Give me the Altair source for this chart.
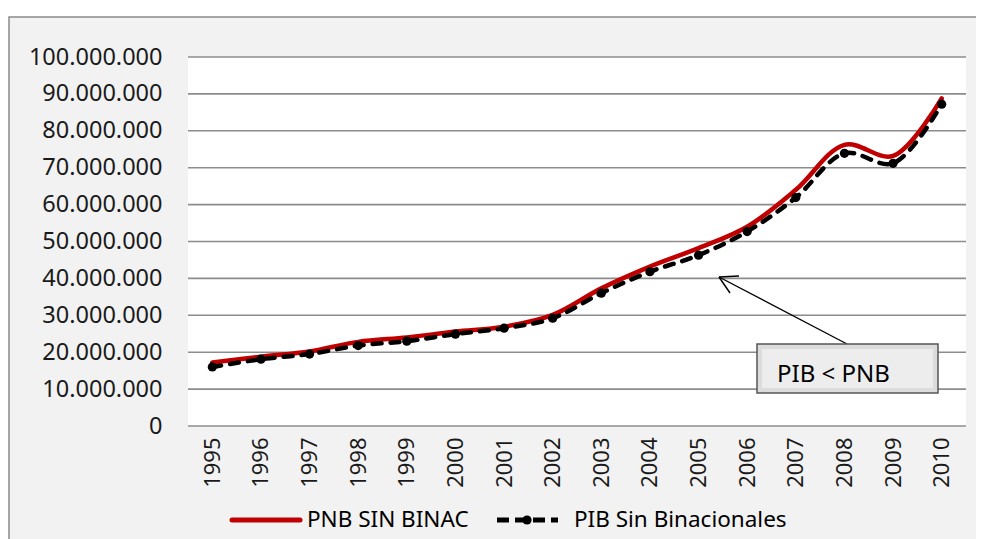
import altair as alt
import pandas as pd

# ---- data (values in units) ----
years = [str(y) for y in range(1995, 2011)]
pnb_millions = [17.2, 18.8, 20.2, 22.8, 24.0, 25.6, 26.9, 30.1, 37.3, 43.2, 48.2, 54.0, 64.0, 76.2, 73.2, 88.8]
pib_millions = [16.0, 18.1, 19.5, 21.8, 23.0, 24.9, 26.5, 29.2, 36.0, 41.8, 46.3, 52.7, 61.9, 73.9, 71.2, 87.2]
tick_values = [0, 10_000_000, 20_000_000, 30_000_000, 40_000_000, 50_000_000,
               60_000_000, 70_000_000, 80_000_000, 90_000_000, 100_000_000]
series_names = ["PNB SIN BINAC", "PIB Sin Binacionales"]
annotation_text = "PIB < PNB"

pnb_df = pd.DataFrame({"year": years, "value": [v * 1_000_000 for v in pnb_millions]})
pib_df = pd.DataFrame({"year": years, "value": [v * 1_000_000 for v in pib_millions]})
grid_df = pd.DataFrame({"year": [years[0]] * len(tick_values), "value": tick_values})
one = pd.DataFrame({"a": [0]})

W, H = 778, 369
FONT = "Noto Sans"
RED = "#c00000"

yscale = alt.Scale(domain=[0, 100_000_000], nice=False, zero=True)
xscale = alt.Scale(type="point", padding=0.5)

y_axis = alt.Axis(
    values=tick_values,
    labelExpr="replace(format(datum.value, ','), regexp(',', 'g'), '.')",
    labelFont=FONT, labelFontSize=23.5, labelColor="#1a1a1a",
    domain=False, ticks=False, grid=False, labelPadding=26, title=None, zindex=1,
)
x_axis = alt.Axis(
    labelAngle=-90, labelFont=FONT, labelFontSize=22, labelColor="#1a1a1a",
    domain=False, ticks=False, grid=False, labelPadding=11, title=None, zindex=1,
)
X = alt.X("year:O", scale=xscale, axis=x_axis, sort=years)
Y = alt.Y("value:Q", scale=yscale, axis=y_axis)


def fixed_rect(x, x2, y, y2, **kw):
    return alt.Chart(one).mark_rect(**kw).encode(
        x=alt.value(x), x2=alt.value(x2), y=alt.value(y), y2=alt.value(y2)
    )


def fixed_rule(x, y, x2, y2, **kw):
    return alt.Chart(one).mark_rule(**kw).encode(
        x=alt.value(x), x2=alt.value(x2), y=alt.value(y), y2=alt.value(y2)
    )


# background panel with border
bg = fixed_rect(-179, W + 40, -40, H + 140, fill="#f2f2f2", stroke="#8a8a8a", strokeWidth=1.5)
plot_bg = fixed_rect(0, W, 0, H, fill="white")

grid = alt.Chart(grid_df).mark_rule(color="#8c8c8c", strokeWidth=1.6).encode(
    y=Y, x=alt.value(0), x2=alt.value(W),
)

red_line = alt.Chart(pnb_df).mark_line(
    color=RED, strokeWidth=4.5, interpolate="catmull-rom", strokeCap="round"
).encode(x=X, y=Y)

black_line = alt.Chart(pib_df).mark_line(
    color="black", strokeWidth=4.5, interpolate="catmull-rom", strokeDash=[9, 9], strokeCap="round"
).encode(x=X, y=Y)
black_pts = alt.Chart(pib_df).mark_point(
    filled=True, color="black", size=85, shape="circle", opacity=1
).encode(x=X, y=Y)

# annotation: arrow + box
arrow_main = fixed_rule(659, 287, 531, 220, color="black", strokeWidth=1.4)
arrow_w1 = fixed_rule(531, 220, 551, 219, color="black", strokeWidth=1.4)
arrow_w2 = fixed_rule(531, 220, 542, 236, color="black", strokeWidth=1.4)
box_outer = fixed_rect(569, 750, 287, 336, fill="#dcdcdc", stroke="#555555", strokeWidth=1.5)
box_inner = fixed_rect(574, 745, 292, 331, fill="#ededed")
box_text = alt.Chart(pd.DataFrame({"t": [annotation_text]})).mark_text(
    font=FONT, fontSize=24, color="black", align="left", baseline="alphabetic"
).encode(text="t:N", x=alt.value(589), y=alt.value(325))

# legend
LEG_Y = 463
leg_red = fixed_rule(44, LEG_Y, 112, LEG_Y, color=RED, strokeWidth=5, strokeCap="round")
leg_red_txt = alt.Chart(pd.DataFrame({"t": [series_names[0]]})).mark_text(
    font=FONT, fontSize=22.5, color="black", align="left", baseline="middle"
).encode(text="t:N", x=alt.value(119), y=alt.value(LEG_Y))
leg_blk = fixed_rule(309, LEG_Y, 370, LEG_Y, color="black", strokeWidth=5, strokeDash=[12, 6], strokeCap="butt")
leg_blk_pt = alt.Chart(one).mark_point(filled=True, color="black", size=85, shape="circle", opacity=1).encode(
    x=alt.value(339), y=alt.value(LEG_Y)
)
leg_blk_txt = alt.Chart(pd.DataFrame({"t": [series_names[1]]})).mark_text(
    font=FONT, fontSize=22.5, color="black", align="left", baseline="middle"
).encode(text="t:N", x=alt.value(386), y=alt.value(LEG_Y))

chart = alt.layer(
    bg, plot_bg, grid, red_line, black_line, black_pts,
    arrow_main, arrow_w1, arrow_w2, box_outer, box_inner, box_text,
    leg_red, leg_red_txt, leg_blk, leg_blk_pt, leg_blk_txt,
).properties(
    width=W, height=H,
    autosize=alt.AutoSizeParams(type="none"),
    padding={"left": 180, "top": 49, "right": 10, "bottom": 116},
    background="white",
).configure_view(stroke=None)

chart.save("out.html", embed_options={"renderer": "svg", "actions": False})
